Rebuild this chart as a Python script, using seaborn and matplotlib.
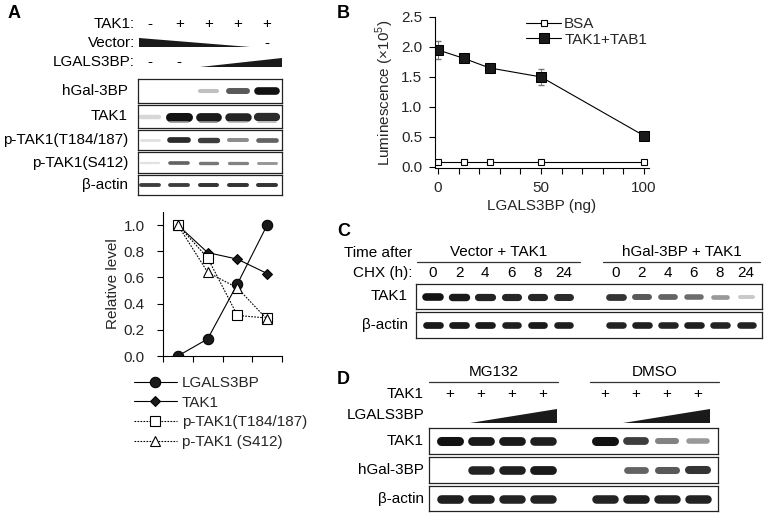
import numpy as np
import pandas as pd
import seaborn as sns
import matplotlib.pyplot as plt

W, H = 765, 514

sns.set_theme(style='white')
plt.rcParams['font.family'] = ['Liberation Sans', 'DejaVu Sans']
plt.rcParams['mathtext.fontset'] = 'custom'
plt.rcParams['mathtext.rm'] = 'Liberation Sans'
plt.rcParams['axes.facecolor'] = 'none'

# ---- panel A: blot header + bands ----
a_tak1_signs = ['-', '+', '+', '+', '+']
a_lgals_signs = ['-', '-', '', '', '']
a_vector_signs = ['', '', '', '', '-']
a_blot_names = ['hGal-3BP', 'TAK1', 'p-TAK1(T184/187)', 'p-TAK1(S412)', '\u03b2-actin']
a_blot_vals = [
    [0.0, 0.0, 0.15, 0.6, 1.0],
    [0.08, 1.0, 0.95, 0.9, 0.85],
    [0.05, 0.85, 0.75, 0.35, 0.55],
    [0.05, 0.55, 0.45, 0.4, 0.3],
    [0.75, 0.75, 0.8, 0.8, 0.8],
]
a_blot_thick = [5.5, 6.5, 4.5, 3.5, 3.2]
a_tak1_lower = [0.0, 0.3, 0.35, 0.2, 0.2]

# panel A: quantification
rel_names = ['LGALS3BP', 'TAK1', 'p-TAK1(T184/187)', 'p-TAK1 (S412)']
rel_lgals = [0.0, 0.13, 0.55, 1.0]
rel_tak1 = [1.0, 0.79, 0.74, 0.63]
rel_ptak1_t = [1.0, 0.75, 0.31, 0.29]
rel_ptak1_s = [1.0, 0.64, 0.52, 0.28]

# ---- panel B: kinase assay ----
lgals_ng = [0, 12.5, 25, 50, 100]
bsa_lum = [0.08, 0.08, 0.08, 0.08, 0.08]
bsa_err = [0.01, 0.01, 0.01, 0.01, 0.01]
taktab_lum = [1.95, 1.81, 1.65, 1.50, 0.52]
taktab_err = [0.15, 0.04, 0.04, 0.14, 0.04]

# ---- panel C: CHX chase ----
chx_hours = ['0', '2', '4', '6', '8', '24']
c_groups = ['Vector + TAK1', 'hGal-3BP + TAK1']
c_tak1 = [1.0, 0.95, 0.9, 0.88, 0.88, 0.85, 0.8, 0.6, 0.55, 0.5, 0.3, 0.12]
c_actin = [0.95, 0.95, 0.95, 0.92, 0.95, 0.92, 0.9, 0.92, 0.9, 0.92, 0.9, 0.9]

# ---- panel D: MG132 ----
d_groups = ['MG132', 'DMSO']
d_tak1_signs = ['+', '+', '+', '+', '+', '+', '+', '+']
d_tak1 = [1.0, 0.95, 0.95, 0.92, 1.0, 0.75, 0.4, 0.3]
d_hgal = [0.0, 0.9, 0.92, 0.95, 0.0, 0.55, 0.6, 0.8]
d_actin = [0.92, 0.92, 0.9, 0.9, 0.9, 0.92, 0.9, 0.9]

fig = plt.figure(figsize=(W / 100, H / 100), dpi=100)


def px_axes(x0, y0, x1, y1):
    return fig.add_axes([x0 / W, 1 - y1 / H, (x1 - x0) / W, (y1 - y0) / H])


def ftext(x, y, s, **kw):
    kw.setdefault('fontsize', 11)
    kw.setdefault('va', 'center')
    fig.text(x / W, 1 - y / H, s, color='black', **kw)


over = px_axes(0, 0, W, H)
over.set_xlim(0, W)
over.set_ylim(H, 0)
over.axis('off')


def bands(ax, pos, vals, y=0.0, half=0.3, lw=5.5):
    for p, v in zip(pos, vals):
        if v <= 0:
            continue
        g = 1 - 0.93 * v ** 0.7
        ax.plot([p - half, p + half], [y, y], color=(g, g, g),
                lw=lw * (0.45 + 0.55 * v), solid_capstyle='round')


def blot(box, pos, vals, xlim, half=0.3, lw=5.5):
    ax = px_axes(*box)
    bands(ax, pos, vals, half=half, lw=lw)
    ax.set_xlim(*xlim)
    ax.set_ylim(-1, 1)
    ax.set_xticks([])
    ax.set_yticks([])
    for s in ax.spines.values():
        s.set_color('#222222')
        s.set_linewidth(0.9)
    return ax


# ================= panel A =================
ftext(8, 14, 'A', fontsize=13, fontweight='bold')
a_lane_px = [150 + 29.25 * i for i in range(5)]
ftext(135, 24, 'TAK1:', ha='right')
ftext(135, 43, 'Vector:', ha='right')
ftext(135, 62, 'LGALS3BP:', ha='right')
for x, s in zip(a_lane_px, a_tak1_signs):
    ftext(x, 24, s, ha='center')
for x, s in zip(a_lane_px, a_vector_signs):
    ftext(x, 43, s, ha='center')
for x, s in zip(a_lane_px, a_lgals_signs):
    ftext(x, 62, s, ha='center')
over.fill([139, 250, 139], [38, 47, 47], color='#1a1a1a', lw=0)
over.fill([200, 282, 282], [67, 58, 67], color='#1a1a1a', lw=0)

a_rows = [(79, 103), (105, 128), (130, 150), (152, 173), (175, 195)]
for (y0, y1), name, vals, lw in zip(a_rows, a_blot_names, a_blot_vals, a_blot_thick):
    ax = blot((138, y0, 282, y1), range(5), vals, (-0.41, 4.51), lw=lw)
    if name == 'TAK1':
        bands(ax, range(5), a_tak1_lower, y=-0.5, lw=2.0)
    ftext(128, (y0 + y1) / 2, name, ha='right')

axA = px_axes(163, 212, 282, 356)
xq = [0, 1, 2, 3]
sns.lineplot(x=xq, y=rel_lgals, ax=axA, color='black', lw=0.8, marker='o',
             markersize=7.5, markerfacecolor='#1a1a1a', markeredgecolor='black',
             label=rel_names[0])
sns.lineplot(x=xq, y=rel_tak1, ax=axA, color='black', lw=0.8, marker='D',
             markersize=5.5, markerfacecolor='#1a1a1a', markeredgecolor='black',
             label=rel_names[1])
sns.lineplot(x=xq, y=rel_ptak1_t, ax=axA, color='black', lw=0.8, ls=(0, (1.5, 1.2)),
             marker='s', markersize=7, markerfacecolor='white', markeredgecolor='black',
             markeredgewidth=0.8, label=rel_names[2])
sns.lineplot(x=xq, y=rel_ptak1_s, ax=axA, color='black', lw=0.8, ls=(0, (1.5, 1.2)),
             marker='^', markersize=7, markerfacecolor='white', markeredgecolor='black',
             markeredgewidth=0.8, label=rel_names[3])
axA.set_xlim(-0.5, 3.5)
axA.set_ylim(0, 1.1)
axA.set_xticks([-0.5, 0.5, 1.5, 2.5, 3.5])
axA.set_xticklabels([])
axA.set_yticks([0, 0.2, 0.4, 0.6, 0.8, 1.0])
axA.set_yticklabels(['0.0', '0.2', '0.4', '0.6', '0.8', '1.0'])
axA.tick_params(direction='out', length=4, width=0.8, color='black',
                labelsize=11, pad=9, left=True, bottom=True)
for s in ['top', 'right']:
    axA.spines[s].set_visible(False)
for s in ['left', 'bottom']:
    axA.spines[s].set_color('black')
    axA.spines[s].set_linewidth(0.8)
axA.set_xlabel('')
axA.set_ylabel('Relative level', fontsize=11, labelpad=3)
axA.legend(loc='upper left', bbox_to_anchor=(134 / W, 1 - 376 / H),
           bbox_transform=fig.transFigure, frameon=False, fontsize=11,
           handlelength=2.8, handletextpad=0.35, labelspacing=0.37,
           borderpad=0, borderaxespad=0)

# ================= panel B =================
ftext(337, 14, 'B', fontsize=13, fontweight='bold')
axB = px_axes(435, 17, 649, 168)
axB.errorbar(lgals_ng, bsa_lum, yerr=bsa_err, fmt='none', ecolor='#777777',
             elinewidth=0.7, capsize=2)
axB.errorbar(lgals_ng, taktab_lum, yerr=taktab_err, fmt='none', ecolor='#777777',
             elinewidth=0.7, capsize=2)
sns.lineplot(x=lgals_ng, y=bsa_lum, ax=axB, color='black', lw=0.8, marker='s',
             markersize=4, markerfacecolor='white', markeredgecolor='black',
             markeredgewidth=0.8, label='BSA')
sns.lineplot(x=lgals_ng, y=taktab_lum, ax=axB, color='black', lw=0.8, marker='s',
             markersize=7, markerfacecolor='#1a1a1a', markeredgecolor='black',
             label='TAK1+TAB1')
axB.set_xlim(-1.5, 102.5)
axB.set_ylim(-0.02, 2.5)
axB.set_xticks(range(0, 101, 10))
axB.set_xticklabels(['0', '', '', '', '', '50', '', '', '', '', '100'])
axB.set_yticks([0, 0.5, 1.0, 1.5, 2.0, 2.5])
axB.set_yticklabels(['0.0', '0.5', '1.0', '1.5', '2.0', '2.5'])
axB.tick_params(direction='out', length=4, width=0.8, color='black',
                labelsize=11, pad=5, left=True, bottom=True)
for s in ['top', 'right']:
    axB.spines[s].set_visible(False)
for s in ['left', 'bottom']:
    axB.spines[s].set_color('black')
    axB.spines[s].set_linewidth(0.8)
axB.set_xlabel('LGALS3BP (ng)', fontsize=11, labelpad=3)
axB.set_ylabel('Luminescence (\u00d710$^{5}$)', fontsize=11, labelpad=4)
axB.legend(loc='upper left', bbox_to_anchor=(526 / W, 1 - 17 / H),
           bbox_transform=fig.transFigure, frameon=False, fontsize=11,
           handlelength=2.3, handletextpad=0.2, labelspacing=0.12,
           borderpad=0, borderaxespad=0)

# ================= panel C =================
ftext(337, 231, 'C', fontsize=13, fontweight='bold')
c_pos = [0, 1, 2, 3, 4, 5, 7, 8, 9, 10, 11, 12]
c_lane_px = [433 + 26.1 * p for p in c_pos]
ftext(412, 253, 'Time after', ha='right')
ftext(412, 273, 'CHX (h):', ha='right')
for (x0, x1), g in zip([(417, 580), (603, 760)], c_groups):
    over.plot([x0, x1], [262, 262], color='#333333', lw=0.9)
    ftext((x0 + x1) / 2, 252, g, ha='center')
for x, h in zip(c_lane_px, chx_hours + chx_hours):
    ftext(x, 273, h, ha='center')
blot((416, 284, 762, 309), c_pos, c_tak1, (-0.65, 12.6), half=0.26, lw=5.5)
blot((416, 312, 762, 338), c_pos, c_actin, (-0.65, 12.6), half=0.26, lw=5.0)
ftext(408, 296, 'TAK1', ha='right')
ftext(408, 325, '\u03b2-actin', ha='right')

# ================= panel D =================
ftext(337, 379, 'D', fontsize=13, fontweight='bold')
d_pos = [0, 1, 2, 3, 5, 6, 7, 8]
d_lane_px = [450 + 31 * p for p in d_pos]
for (x0, x1), g in zip([(429, 558), (590, 719)], d_groups):
    over.plot([x0, x1], [382, 382], color='#333333', lw=0.9)
    ftext((x0 + x1) / 2, 372, g, ha='center')
ftext(424, 394, 'TAK1', ha='right')
ftext(424, 415, 'LGALS3BP', ha='right')
for x, s in zip(d_lane_px, d_tak1_signs):
    ftext(x, 394, s, ha='center')
over.fill([470, 557, 557], [423, 409, 423], color='#1a1a1a', lw=0)
over.fill([623, 710, 710], [423, 409, 423], color='#1a1a1a', lw=0)
d_rows = [(428, 454), (457, 483), (486, 511)]
for (y0, y1), name, vals in zip(d_rows, ['TAK1', 'hGal-3BP', '\u03b2-actin'],
                                [d_tak1, d_hgal, d_actin]):
    blot((429, y0, 718, y1), d_pos, vals, (-0.68, 8.65), half=0.3, lw=6.5)
    ftext(424, (y0 + y1) / 2, name, ha='right')

fig.savefig('out.png', dpi=100)
